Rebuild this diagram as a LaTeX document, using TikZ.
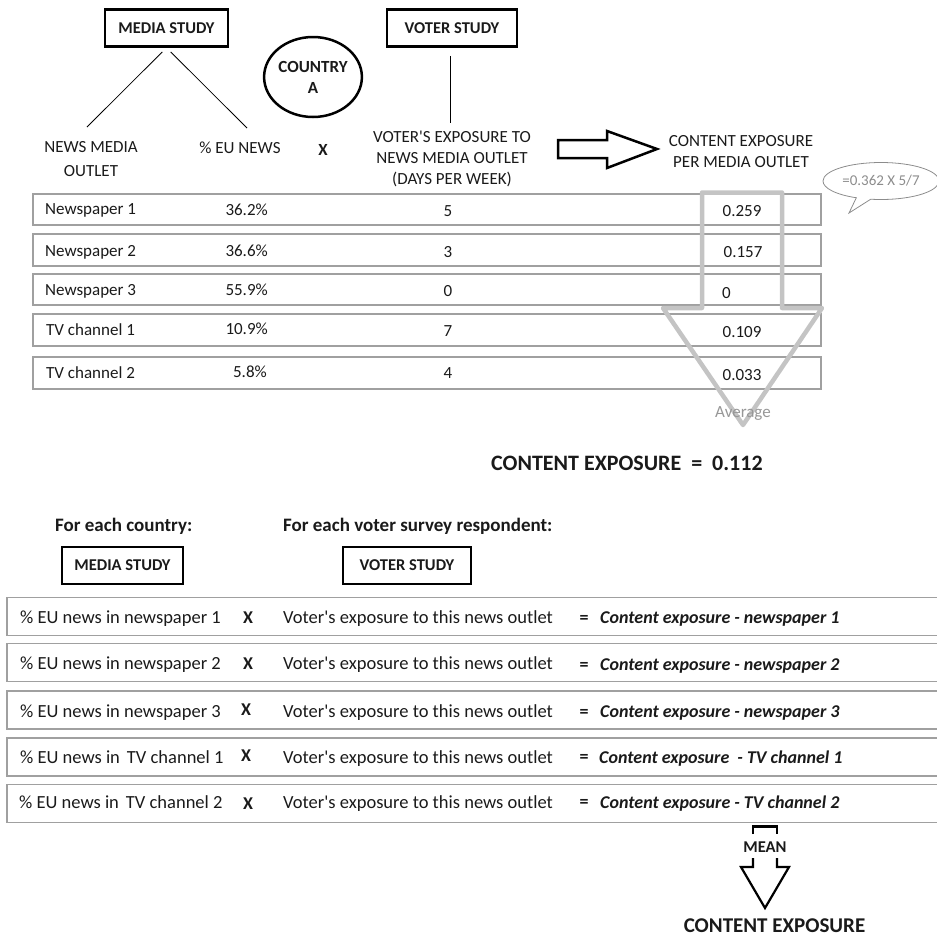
\documentclass[tikz,border=0pt]{standalone}
\usepackage{fontspec}
\setmainfont{Carlito}
\usetikzlibrary{shapes.geometric,shapes.callouts}
\definecolor{ink}{HTML}{1A1A1A}
\definecolor{rowline}{HTML}{A0A0A0}
\definecolor{arrowgray}{HTML}{C4C4C4}
\definecolor{notegray}{HTML}{8C8C8C}
\begin{document}
\begin{tikzpicture}
    [x=1pt, y=-1pt, text=ink,
    small/.style={font=\fontsize{17}{21}\selectfont, inner sep=0pt},
    large/.style={font=\fontsize{18.5}{22}\selectfont, inner sep=0pt},
    studybox/.style={draw=black, line width=2.5pt, minimum height=37pt,
        font=\fontsize{16.5}{20}\selectfont\bfseries},
    outletrow/.style={draw=rowline, line width=1.2pt, minimum width=788pt, inner sep=0pt},
    surveyrow/.style={draw=rowline, line width=1.2pt, minimum width=940pt,
        minimum height=38pt, inner sep=0pt},
    blockarrow/.style={draw=black, line width=2.5pt, line join=miter}]
    \useasboundingbox (0,0) rectangle (937,938);

    \node[studybox, minimum width=123pt] (media1) at (166.5,28) {MEDIA STUDY};
    \node[studybox, minimum width=130pt] (voter1) at (452,28) {VOTER STUDY};
    \node[ellipse, draw=black, line width=2.5pt, minimum width=94pt, minimum height=80pt,
        inner sep=0pt, align=center, font=\fontsize{17}{21}\selectfont\bfseries]
        (country) at (313,77) {COUNTRY\\A};

    \node[small, align=center, font=\fontsize{17}{24}\selectfont] (outlethead) at (91,159) {NEWS MEDIA\\OUTLET};
    \node[small, anchor=base] (pcthead) at (240,153) {\% EU NEWS};
    \node[small, anchor=base, font=\fontsize{17}{21}\selectfont\bfseries] (times) at (323,155) {X};
    \node[small, align=center] (exphead) at (452,159) {VOTER\textquotesingle S EXPOSURE TO\\NEWS MEDIA OUTLET\\(DAYS PER WEEK)};
    \node[small, align=center] (cehead) at (741,151.5) {CONTENT EXPOSURE\\PER MEDIA OUTLET};

    \coordinate (outletend) at (87,127);
    \coordinate (pctend) at (247,128);
    \draw[line width=0.8pt, shorten <=6pt] (media1.south) -- (outletend);
    \draw[line width=0.8pt, shorten <=6pt] (media1.south) -- (pctend);
    \draw[line width=0.8pt, shorten <=8pt, shorten >=8pt] ([xshift=-2pt]voter1.south) -- ([xshift=-2pt]exphead.north);

    \draw[blockarrow] (558,140) -- (607,140) -- (607,131) -- (657,149)
        -- (607,168) -- (607,158) -- (558,158) -- cycle;

    \coordinate (notetip) at (849,213);
    \node[ellipse callout, draw=notegray, line width=0.8pt, text=notegray, inner sep=0pt,
        minimum width=116pt, minimum height=37pt, callout absolute pointer={(notetip)},
        font=\fontsize{15}{18}\selectfont] (note) at (881,181) {=0.362 X 5/7};

    \node[outletrow, minimum height=31pt] (row1) at (427,209.5) {};
    \node[outletrow, minimum height=32pt] (row2) at (427,250) {};
    \node[outletrow, minimum height=31pt] (row3) at (427,289.5) {};
    \node[outletrow, minimum height=32pt] (row4) at (427,330) {};
    \node[outletrow, minimum height=32pt] (row5) at (427,373) {};

    \node[small, anchor=base west] (outlet1) at (45,214) {Newspaper 1};
    \node[small, anchor=base east] (pct1) at (268,215) {36.2\%};
    \node[small, anchor=base] (days1) at (448,216) {5};
    \node[small, anchor=base west] (exp1) at (722.5,216) {0.259};

    \node[small, anchor=base west] (outlet2) at (45,256) {Newspaper 2};
    \node[small, anchor=base east] (pct2) at (268,256) {36.6\%};
    \node[small, anchor=base] (days2) at (448,257) {3};
    \node[small, anchor=base west] (exp2) at (723.5,257) {0.157};

    \node[small, anchor=base west] (outlet3) at (45,295) {Newspaper 3};
    \node[small, anchor=base east] (pct3) at (268,295) {55.9\%};
    \node[small, anchor=base] (days3) at (448,296) {0};
    \node[small, anchor=base west] (exp3) at (722,298) {0};

    \node[small, anchor=base west] (outlet4) at (46,335) {TV channel 1};
    \node[small, anchor=base east] (pct4) at (268,334) {10.9\%};
    \node[small, anchor=base] (days4) at (448,336) {7};
    \node[small, anchor=base west] (exp4) at (722.5,337) {0.109};

    \node[small, anchor=base west] (outlet5) at (46,378) {TV channel 2};
    \node[small, anchor=base east] (pct5) at (267,377) {5.8\%};
    \node[small, anchor=base] (days5) at (448,378) {4};
    \node[small, anchor=base west] (exp5) at (722.5,380) {0.033};

    \draw[arrowgray, line width=4.5pt, line join=round] (702,308) -- (702,192.5) -- (782,192.5)
        -- (782,308) -- (822,308) -- (743,425) -- (663,308) -- cycle;
    \node[small, anchor=base, text=notegray!90] (average) at (743,417) {Average};

    \node[anchor=base west, inner sep=0pt, font=\fontsize{22}{26}\selectfont\bfseries]
        (total1) at (491,470) {CONTENT EXPOSURE \ = \ 0.112};

    \node[anchor=base west, inner sep=0pt, font=\fontsize{19}{22}\selectfont\bfseries]
        (countrynote) at (55,531) {For each country:};
    \node[anchor=base west, inner sep=0pt, font=\fontsize{19}{22}\selectfont\bfseries]
        (respnote) at (283,531) {For each voter survey respondent:};
    \node[studybox, minimum width=121pt] (media2) at (122.5,565.5) {MEDIA STUDY};
    \node[studybox, minimum width=128pt] (voter2) at (407,565.5) {VOTER STUDY};

    \node[surveyrow] (survey1) at (477,616.5) {};
    \node[surveyrow] (survey2) at (477,662.5) {};
    \node[surveyrow] (survey3) at (477,710) {};
    \node[surveyrow] (survey4) at (477,757) {};
    \node[surveyrow] (survey5) at (477,803.5) {};

    \node[large, anchor=base west] (share1) at (20,623) {\% EU news in newspaper 1};
    \node[large, anchor=base, font=\fontsize{18}{22}\selectfont\bfseries] (by1) at (248,623) {X};
    \node[large, anchor=base west] (use1) at (283,623) {Voter\textquotesingle s exposure to this news outlet};
    \node[large, anchor=base, font=\fontsize{18}{22}\selectfont\bfseries] (eq1) at (584,623) {=};
    \node[large, anchor=base west, font=\fontsize{18}{22}\selectfont\bfseries\itshape] (res1) at (600,623) {Content exposure - newspaper 1};

    \node[large, anchor=base west] (share2) at (20,669) {\% EU news in newspaper 2};
    \node[large, anchor=base, font=\fontsize{18}{22}\selectfont\bfseries] (by2) at (248,669) {X};
    \node[large, anchor=base west] (use2) at (283,669) {Voter\textquotesingle s exposure to this news outlet};
    \node[large, anchor=base, font=\fontsize{18}{22}\selectfont\bfseries] (eq2) at (584,670) {=};
    \node[large, anchor=base west, font=\fontsize{18}{22}\selectfont\bfseries\itshape] (res2) at (600,670) {Content exposure - newspaper 2};

    \node[large, anchor=base west] (share3) at (20,717) {\% EU news in newspaper 3};
    \node[large, anchor=base, font=\fontsize{18}{22}\selectfont\bfseries] (by3) at (246,715) {X};
    \node[large, anchor=base west] (use3) at (283,717) {Voter\textquotesingle s exposure to this news outlet};
    \node[large, anchor=base, font=\fontsize{18}{22}\selectfont\bfseries] (eq3) at (584,717) {=};
    \node[large, anchor=base west, font=\fontsize{18}{22}\selectfont\bfseries\itshape] (res3) at (600,717) {Content exposure - newspaper 3};

    \node[large, anchor=base west] (share4) at (20,763) {\% EU news in\hspace{7pt}TV channel 1};
    \node[large, anchor=base, font=\fontsize{18}{22}\selectfont\bfseries] (by4) at (246,761) {X};
    \node[large, anchor=base west] (use4) at (283,763) {Voter\textquotesingle s exposure to this news outlet};
    \node[large, anchor=base, font=\fontsize{18}{22}\selectfont\bfseries] (eq4) at (584,762) {=};
    \node[large, anchor=base west, font=\fontsize{18}{22}\selectfont\bfseries\itshape] (res4) at (599,763) {Content exposure \ - TV channel 1};

    \node[large, anchor=base west] (share5) at (19,808) {\% EU news in\hspace{7pt}TV channel 2};
    \node[large, anchor=base, font=\fontsize{18}{22}\selectfont\bfseries] (by5) at (248,809) {X};
    \node[large, anchor=base west] (use5) at (283,808) {Voter\textquotesingle s exposure to this news outlet};
    \node[large, anchor=base, font=\fontsize{18}{22}\selectfont\bfseries] (eq5) at (584,807) {=};
    \node[large, anchor=base west, font=\fontsize{18}{22}\selectfont\bfseries\itshape] (res5) at (600,808) {Content exposure - TV channel 2};

    \draw[blockarrow] (753,834) -- (753,826.5) -- (777,826.5) -- (777,834);
    \node[anchor=base, inner sep=0pt, font=\fontsize{16.5}{20}\selectfont\bfseries] (mean) at (765,852) {MEAN};
    \draw[blockarrow, line width=2.2pt] (753,858) -- (753,867) -- (741,867) -- (765,908)
        -- (789,867) -- (777,867) -- (777,858);
    \node[anchor=base, inner sep=0pt, font=\fontsize{21}{24}\selectfont\bfseries] (total2) at (774.5,932) {CONTENT EXPOSURE};
\end{tikzpicture}
\end{document}
